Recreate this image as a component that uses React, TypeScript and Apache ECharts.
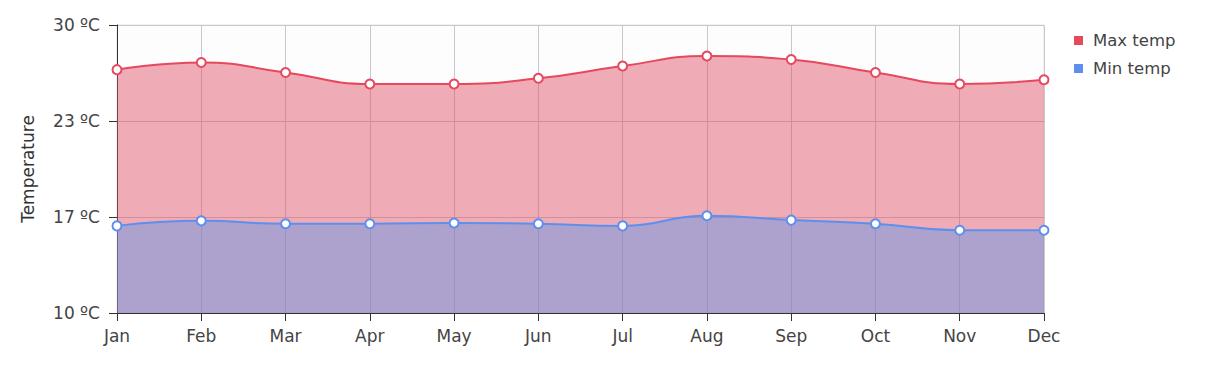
import React, { useEffect, useRef } from "react";
import * as echarts from "echarts";

const months = ["Jan", "Feb", "Mar", "Apr", "May", "Jun", "Jul", "Aug", "Sep", "Oct", "Nov", "Dec"];
const maxTemp = [26.9, 27.4, 26.7, 25.9, 25.9, 26.3, 27.15, 27.85, 27.6, 26.7, 25.9, 26.2];
const minTemp = [16.05, 16.4, 16.2, 16.2, 16.25, 16.2, 16.05, 16.75, 16.45, 16.2, 15.75, 15.75];
const yMin = 10;
const yMax = 30;

export default function App() {
  const ref = useRef<HTMLDivElement>(null);
  useEffect(() => {
    if (!ref.current) return;
    const chart = echarts.init(ref.current, undefined, { renderer: "svg" });
    const font = "DejaVu Sans";
    chart.setOption({
      animation: false,
      backgroundColor: "#ffffff",
      textStyle: { fontFamily: font },
      legend: {
        orient: "vertical",
        left: 1069,
        top: 27,
        itemWidth: 9,
        itemHeight: 9,
        itemGap: 11,
        icon: "rect",
        textStyle: { fontFamily: font, fontSize: 16.5, color: "#444", padding: [0, 0, 0, 5] },
        data: [
          { name: "Max temp", itemStyle: { color: "#e6485e" } },
          { name: "Min temp", itemStyle: { color: "#5d90ee" } },
        ],
      },
      grid: { left: 117, right: 181, top: 25, bottom: 55, show: true, backgroundColor: "#fdfdfd", borderColor: "#e2e2e2", borderWidth: 1 },
      xAxis: {
        type: "category",
        data: months,
        boundaryGap: false,
        axisLine: { lineStyle: { color: "#333", width: 1 } },
        axisTick: { show: true, length: 8, lineStyle: { color: "#333" } },
        axisLabel: { fontFamily: font, fontSize: 17, color: "#444", margin: 14 },
        splitLine: { show: true, lineStyle: { color: "#c8c8c8" } },
      },
      yAxis: {
        type: "value",
        min: yMin,
        max: yMax,
        interval: (yMax - yMin) / 3,
        name: "Temperature",
        nameLocation: "middle",
        nameGap: 81,
        nameTextStyle: { fontFamily: font, fontSize: 17, color: "#333" },
        axisLine: { show: true, lineStyle: { color: "#333" } },
        axisTick: { show: true, length: 8, lineStyle: { color: "#333" } },
        axisLabel: { fontFamily: font, fontSize: 17, color: "#444", margin: 17, formatter: (v: number) => Math.round(v) + " ºC" },
        splitLine: { show: true, lineStyle: { color: "#c8c8c8" } },
      },
      series: [
        {
          name: "Max temp",
          type: "line",
          smooth: true,
          data: maxTemp,
          symbol: "emptyCircle",
          symbolSize: 9,
          lineStyle: { color: "#e6485e", width: 2 },
          itemStyle: { color: "#e6485e", borderWidth: 2 },
          areaStyle: { color: "rgb(222,72,95)", opacity: 0.45, origin: "start" },
          z: 2,
        },
        {
          name: "Min temp",
          type: "line",
          smooth: true,
          data: minTemp,
          symbol: "emptyCircle",
          symbolSize: 9,
          lineStyle: { color: "#5d90ee", width: 2 },
          itemStyle: { color: "#5d90ee", borderWidth: 2 },
          areaStyle: { color: "rgb(93,149,234)", opacity: 0.45, origin: "start" },
          z: 3,
        },
      ],
    });
    return () => chart.dispose();
  }, []);
  return <div ref={ref} style={{ position: "fixed", left: 0, top: 0, width: 1225, height: 368 }} />;
}
